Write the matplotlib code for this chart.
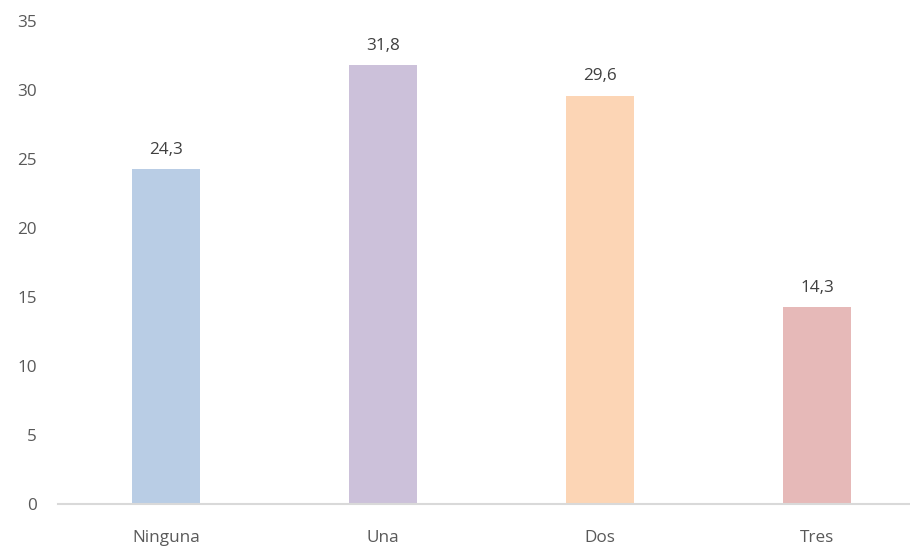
import matplotlib.pyplot as plt

# datos
categorias = ["Ninguna", "Una", "Dos", "Tres"]
valores = [24.3, 31.8, 29.6, 14.3]
colores = ["#B9CDE5", "#CCC1DA", "#FCD5B5", "#E6B9B8"]
ticks_y = [0, 5, 10, 15, 20, 25, 30, 35]

plt.rcParams['font.family'] = ['Open Sans', 'DejaVu Sans']

fig = plt.figure(figsize=(9.10, 5.48), dpi=100)
ax = fig.add_axes([57.5 / 910, 44 / 548, 868 / 910, 483 / 548])

x = range(len(categorias))
barras = ax.bar(x, valores, width=0.313, color=colores)

# etiquetas sobre las barras
for b, v in zip(barras, valores):
    ax.annotate(("%.1f" % v).replace(".", ","), (b.get_x() + b.get_width() / 2, v),
                xytext=(0, 8), textcoords="offset points", ha="center", va="bottom",
                fontsize=12.3, color="#404040")

ax.set_xlim(-0.5, 3.5)
ax.set_ylim(0, 35)
ax.set_xticks(list(x))
ax.set_xticklabels(categorias)
ax.set_yticks(ticks_y)
ax.tick_params(axis="both", length=0, labelsize=12.3, labelcolor="#595959")
ax.tick_params(axis="x", pad=19)
ax.tick_params(axis="y", pad=15)

for s in ["top", "right", "left"]:
    ax.spines[s].set_visible(False)
ax.spines["bottom"].set_color("#D9D9D9")
ax.spines["bottom"].set_linewidth(1.5)

fig.savefig("out.png", dpi=100)
